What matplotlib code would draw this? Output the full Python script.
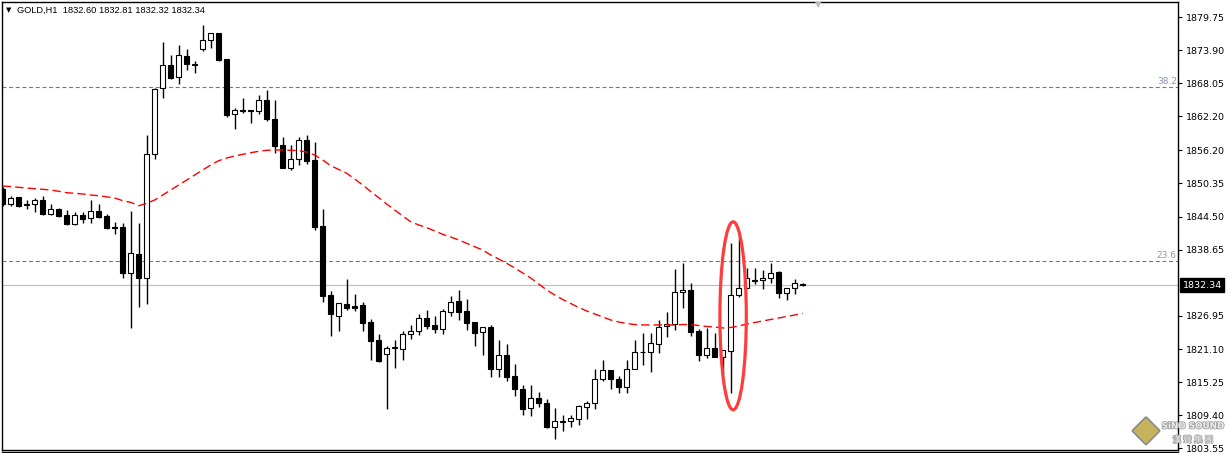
import matplotlib
matplotlib.use("Agg")
import matplotlib.pyplot as plt
import matplotlib.transforms as mtransforms
import matplotlib.patheffects as pe
from matplotlib.patches import Ellipse
from matplotlib.lines import Line2D

# GOLD H1 candles (oldest -> newest)
opens = [1849.37, 1846.78, 1847.91, 1846.78, 1846.67, 1847.43, 1845.01, 1845.84, 1844.78, 1843.14,
         1844.78, 1844.20, 1845.49, 1844.60, 1842.66, 1842.66, 1834.59, 1837.89, 1833.61, 1855.50,
         1867.16, 1871.27, 1869.10, 1872.86, 1871.45, 1874.04, 1875.63, 1876.92, 1872.33, 1862.57,
         1863.27, 1863.15, 1863.09, 1865.04, 1861.68, 1857.09, 1853.13, 1854.62, 1858.03, 1854.44,
         1842.84, 1830.65, 1827.00, 1829.06, 1828.71, 1828.89, 1825.83, 1822.66, 1820.17, 1821.29,
         1821.17, 1823.82, 1824.25, 1826.54, 1825.30, 1824.70, 1827.70, 1829.54, 1827.77, 1825.83,
         1824.07, 1825.00, 1817.53, 1820.01, 1816.30, 1814.05, 1810.64, 1812.46, 1811.58, 1807.40,
         1808.31, 1808.35, 1808.81, 1810.93, 1811.53, 1815.77, 1817.41, 1815.82, 1814.46, 1817.53,
         1820.50, 1820.53, 1821.95, 1825.13, 1825.48, 1831.13, 1831.54, 1824.30, 1820.11, 1821.29,
         1819.76, 1820.85, 1830.71, 1831.84, 1833.21, 1833.25, 1833.60, 1834.66, 1830.95, 1831.84,
         1832.60]
highs = [1849.73, 1848.14, 1848.01, 1847.43, 1847.73, 1848.14, 1846.72, 1846.07, 1845.67, 1845.26,
         1845.26, 1847.43, 1846.72, 1845.01, 1843.49, 1843.42, 1845.49, 1843.42, 1858.91, 1867.16,
         1875.33, 1873.04, 1874.80, 1874.04, 1871.92, 1878.34, 1876.92, 1876.95, 1872.33, 1863.68,
         1865.39, 1863.27, 1865.92, 1866.80, 1865.04, 1858.50, 1857.20, 1858.50, 1858.91, 1857.67,
         1845.84, 1831.31, 1829.19, 1833.48, 1830.83, 1829.42, 1826.36, 1823.77, 1821.65, 1822.70,
         1824.30, 1825.30, 1827.35, 1827.95, 1826.95, 1828.18, 1830.48, 1831.48, 1830.03, 1825.89,
         1824.95, 1825.36, 1822.65, 1822.00, 1818.47, 1814.71, 1814.76, 1813.52, 1812.34, 1810.70,
         1809.51, 1809.46, 1811.23, 1811.93, 1817.53, 1819.17, 1817.41, 1816.40, 1819.12, 1822.70,
         1823.89, 1823.89, 1826.19, 1827.60, 1835.19, 1836.25, 1832.83, 1824.70, 1824.83, 1823.89,
         1820.89, 1839.89, 1841.66, 1835.48, 1835.42, 1835.07, 1836.25, 1834.89, 1831.84, 1833.43,
         1832.81]
lows = [1846.37, 1846.42, 1846.25, 1845.89, 1845.36, 1844.78, 1844.73, 1844.43, 1843.10, 1843.10,
        1843.42, 1843.42, 1844.20, 1842.31, 1841.48, 1833.71, 1824.88, 1828.59, 1829.12, 1854.62,
        1865.50, 1868.85, 1867.97, 1870.44, 1869.91, 1873.80, 1874.27, 1871.98, 1862.14, 1860.02,
        1862.85, 1861.08, 1862.62, 1861.38, 1855.68, 1853.03, 1852.68, 1853.56, 1853.84, 1842.18,
        1829.47, 1823.47, 1824.35, 1828.05, 1827.75, 1824.35, 1819.23, 1818.88, 1810.47, 1817.81,
        1819.23, 1822.93, 1823.64, 1824.60, 1823.94, 1823.82, 1827.00, 1826.24, 1824.47, 1821.70,
        1820.06, 1816.22, 1816.22, 1815.52, 1812.87, 1809.46, 1809.29, 1810.82, 1807.22, 1805.17,
        1806.69, 1807.40, 1807.70, 1808.70, 1810.57, 1815.52, 1814.00, 1813.30, 1813.30, 1817.53,
        1818.34, 1817.11, 1820.36, 1823.29, 1824.42, 1828.41, 1823.47, 1818.95, 1819.48, 1819.76,
        1816.47, 1813.35, 1830.35, 1831.84, 1832.60, 1831.66, 1832.72, 1830.18, 1829.77, 1830.83,
        1832.32]
closes = [1846.72, 1847.73, 1846.42, 1846.60, 1847.43, 1845.01, 1845.79, 1844.66, 1843.14, 1844.78,
          1844.13, 1845.43, 1844.48, 1842.54, 1842.54, 1834.59, 1838.02, 1833.61, 1855.50, 1867.03,
          1871.27, 1869.03, 1873.04, 1871.50, 1871.32, 1875.63, 1876.87, 1872.15, 1862.44, 1863.33,
          1863.09, 1863.20, 1865.04, 1861.68, 1857.02, 1853.13, 1854.62, 1857.97, 1854.37, 1842.71,
          1830.53, 1827.24, 1829.19, 1828.40, 1828.40, 1825.76, 1822.59, 1819.06, 1821.24, 1821.38,
          1823.71, 1824.25, 1826.54, 1825.23, 1824.65, 1827.77, 1829.47, 1827.70, 1825.76, 1823.99,
          1824.95, 1817.53, 1820.01, 1816.22, 1814.00, 1810.57, 1812.46, 1811.53, 1807.40, 1808.35,
          1808.40, 1808.99, 1811.05, 1811.53, 1815.82, 1817.41, 1815.77, 1814.46, 1817.53, 1820.53,
          1820.59, 1822.12, 1825.06, 1825.48, 1831.18, 1831.48, 1824.17, 1820.11, 1821.24, 1819.76,
          1820.89, 1830.74, 1831.84, 1833.60, 1833.13, 1833.60, 1834.54, 1830.95, 1831.84, 1832.72,
          1832.34]
# moving average (red dashed line)
ma = [1849.90, 1849.81, 1849.67, 1849.55, 1849.43, 1849.32, 1849.20, 1848.97, 1848.72, 1848.61,
      1848.49, 1848.31, 1848.19, 1847.99, 1847.78, 1847.31, 1847.02, 1846.42, 1846.85, 1847.43,
      1848.31, 1849.20, 1850.08, 1850.96, 1851.85, 1852.73, 1853.61, 1854.37, 1854.85, 1855.20,
      1855.50, 1855.78, 1856.03, 1856.21, 1856.26, 1856.26, 1856.21, 1856.14, 1855.91, 1855.38,
      1854.49, 1853.49, 1852.82, 1852.15, 1851.14, 1850.08, 1848.93, 1847.84, 1846.72, 1845.66,
      1844.60, 1843.60, 1843.02, 1842.54, 1841.96, 1841.37, 1840.90, 1840.37, 1839.78, 1839.18,
      1838.60, 1837.72, 1837.01, 1836.25, 1835.42, 1834.54, 1833.66, 1832.60, 1831.54, 1830.65,
      1829.86, 1829.15, 1828.45, 1827.83, 1827.30, 1826.77, 1826.24, 1825.89, 1825.62, 1825.44,
      1825.36, 1825.36, 1825.36, 1825.36, 1825.36, 1825.44, 1825.44, 1825.27, 1825.09, 1825.00,
      1824.83, 1824.92, 1825.18, 1825.53, 1825.80, 1826.06, 1826.33, 1826.59, 1826.86, 1827.12,
      1827.39]

fib_names = ["38.2", "23.6"]
fib_prices = [1867.39, 1836.66]
price_ticks = [1879.75, 1873.90, 1868.05, 1862.20, 1856.20, 1850.35, 1844.50,
               1838.65, 1826.95, 1821.10, 1815.25, 1809.40, 1803.55]
symbol = "GOLD,H1"
last_price = closes[-1]

W, H = 1230, 453
AX_RIGHT = 1178
fig = plt.figure(figsize=(W / 100, H / 100), dpi=100)
ax = fig.add_axes([2 / W, 3 / H, (AX_RIGHT - 2) / W, (450 - 2) / H])

x = list(range(len(closes)))
up = [c >= o for o, c in zip(opens, closes)]

# wicks, then bodies on top
ax.vlines(x, lows, highs, color="black", lw=1.0, zorder=2)
bottoms = [min(o, c) for o, c in zip(opens, closes)]
heights = [max(abs(c - o), 0.1) for o, c in zip(opens, closes)]
ax.bar(x, heights, bottom=bottoms, width=0.6,
       color=["white" if u else "black" for u in up],
       edgecolor="black", linewidth=0.8, zorder=3)

ax.plot(x, ma, color="red", lw=1.0, dashes=(6, 3), zorder=4)

# fibo levels + current price line
trans = mtransforms.blended_transform_factory(ax.transAxes, ax.transData)
for name, lvl in zip(fib_names, fib_prices):
    ax.axhline(lvl, color="#6e7784", lw=0.8, dashes=(3.5, 2.5), zorder=1)
    ax.text(0.999, lvl + 0.25, name, transform=trans, ha="right", va="bottom",
            fontsize=6.5, color="#8797b0")
ax.axhline(last_price, color="#c0c0c0", lw=0.9, zorder=0)

# highlight of the spike bar
ax.add_patch(Ellipse((91.3, 1826.98), width=3.3, height=33.2, fill=False,
                     edgecolor="#ff3d3d", lw=2.3, zorder=6))

ax.set_xlim(-0.09, (AX_RIGHT - 2.7) / 8)
ax.set_ylim(1803.28, 1882.40)
ax.set_xticks([])
ax.yaxis.tick_right()
ax.set_yticks(price_ticks)
ax.set_yticklabels([f"{t:.2f}" for t in price_ticks])
ax.tick_params(axis="y", length=3, width=0.8, pad=3, labelsize=6.8, colors="black")
for s in ax.spines.values():
    s.set_color("black")
    s.set_linewidth(1.0)

ax.text(1.004, last_price, f"{last_price:.2f}", transform=trans, ha="left", va="center",
        fontsize=6.8, color="white",
        bbox=dict(facecolor="black", edgecolor="black", pad=1.8))

# header
fig.text(6 / W, 1 - 10 / H, "\u25BC", fontsize=5, va="center", ha="left")
fig.text(17 / W, 1 - 10 / H,
         f"{symbol}  {opens[-1]:.2f} {highs[-1]:.2f} {lows[-1]:.2f} {closes[-1]:.2f}",
         fontsize=6.7, va="center", ha="left", family=["Liberation Sans", "DejaVu Sans"])
fig.text(818 / W, 1 - 5 / H, "\u25BC", fontsize=6, va="center", ha="center", color="#b8b8b8")

# watermark
fig.text(1146 / W, 1 - 430 / H, "\u25C6", fontsize=24, ha="center", va="center",
         color="#c6b35c", path_effects=[pe.withStroke(linewidth=2.5, foreground="#8c8c8c")])
fig.text(1193 / W, 1 - 426 / H, "SiNO SOUND", fontsize=6.3, fontweight="bold", ha="center",
         va="center", color="#ececec",
         path_effects=[pe.withStroke(linewidth=1.2, foreground="#a0a0a0")])
fig.text(1193 / W, 1 - 440 / H, "漢 聲 集 團", fontsize=6.3, ha="center", va="center",
         color="#ececec", family=["Noto Sans CJK TC", "DejaVu Sans"],
         path_effects=[pe.withStroke(linewidth=1.0, foreground="#a0a0a0")])

fig.add_artist(Line2D([2 / W, AX_RIGHT / W], [1 / H, 1 / H], color="black", lw=1.0))

fig.savefig("out.png", dpi=100)
